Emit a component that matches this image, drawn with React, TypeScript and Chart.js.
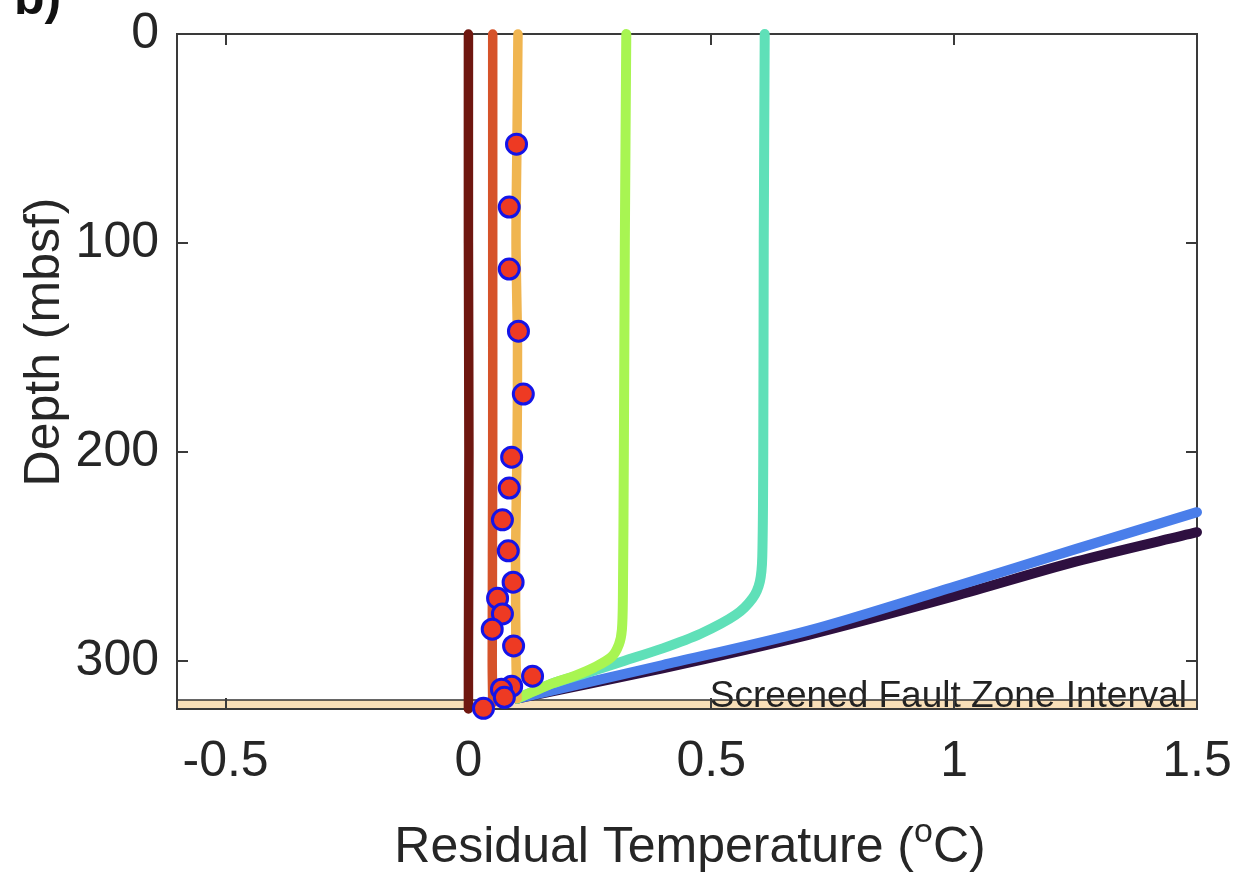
import React, { useEffect, useRef } from "react";
import { Chart, registerables } from "chart.js";

Chart.register(...registerables);

// Axis ranges and ticks
const X_MIN = -0.6;
const X_MAX = 1.5;
const DEPTH_MAX = 323;
const xTicks = [-0.5, 0, 0.5, 1, 1.5];
const xTickLabels = ["-0.5", "0", "0.5", "1", "1.5"];
const yTicks = [0, 100, 200, 300];

// Screened interval (mbsf)
const BAND_TOP = 318.7;
const BAND_BOTTOM = 323;
const BAND_LABEL = "Screened Fault Zone Interval";

// Modelled residual temperature profiles (°C) and their depths (mbsf)
const maroonT = [0.0, 0.0, 0.001, 0.0, 0.0];
const maroonZ = [0, 100, 200, 300, 323];

const redOrangeT = [0.05, 0.05, 0.05, 0.049, 0.05];
const redOrangeZ = [0, 100, 200, 300, 320];

const amberT = [0.102, 0.1, 0.098, 0.101, 0.1, 0.097, 0.098, 0.1];
const amberZ = [0, 50, 100, 150, 200, 250, 300, 318];

const greenT = [0.325, 0.322, 0.32, 0.318, 0.316, 0.31, 0.295, 0.26, 0.22, 0.17, 0.13, 0.1];
const greenZ = [0, 100, 200, 270, 285, 292, 298, 303, 307, 311, 315, 318];

const tealT = [0.61, 0.608, 0.607, 0.605, 0.6, 0.585, 0.55, 0.478, 0.4, 0.32, 0.24, 0.17, 0.1];
const tealZ = [0, 100, 200, 250, 262, 270, 278, 287, 294, 300, 306, 311, 318];

const blueT = [0.1, 0.4, 0.7, 1.0, 1.25, 1.5];
const blueZ = [318, 302, 285.5, 264.5, 246.5, 228.8];

const purpleT = [0.1, 0.4, 0.7, 1.0, 1.25, 1.5];
const purpleZ = [318, 303.5, 287.5, 269, 252.5, 238.4];

// Measured residual temperatures
const obsT = [
  0.099, 0.084, 0.084, 0.103, 0.113, 0.089, 0.084, 0.07, 0.082, 0.092,
  0.06, 0.07, 0.049, 0.093, 0.132, 0.089, 0.068, 0.074, 0.031,
];
const obsZ = [
  52.7, 82.8, 112.5, 142.2, 172.3, 202.5, 217.3, 232.5, 247.3, 262.3,
  270, 277.5, 284.8, 292.8, 307.3, 312.1, 313.5, 317.4, 322.7,
];

const FONT = '"Liberation Sans", Arial, Helvetica, sans-serif';
const TEXT_COLOR = "#262626";

const pairs = (t: number[], z: number[]) => t.map((v, i) => ({ x: v, y: z[i] }));

const profile = (t: number[], z: number[], color: string, width = 9.5) => ({
  type: "scatter" as const,
  data: pairs(t, z),
  showLine: true,
  borderColor: color,
  backgroundColor: color,
  borderWidth: width,
  borderCapStyle: "round" as const,
  borderJoinStyle: "round" as const,
  tension: 0.3,
  pointRadius: 0,
  clip: false as const,
});

const frameAndLabels = {
  id: "frameAndLabels",
  beforeDatasetsDraw(chart: any) {
    const { ctx, chartArea: a, scales } = chart;
    const x = scales.x;
    const y = scales.y;
    const yTop = y.getPixelForValue(BAND_TOP);
    const yBot = y.getPixelForValue(BAND_BOTTOM);
    ctx.save();
    // screened interval band
    ctx.fillStyle = "#f8dfb8";
    ctx.fillRect(a.left, yTop, a.right - a.left, yBot - yTop);
    ctx.font = `37px ${FONT}`;
    ctx.fillStyle = "#222";
    ctx.textAlign = "right";
    ctx.textBaseline = "alphabetic";
    ctx.fillText(BAND_LABEL, a.right - 10, yBot - 2);
    ctx.strokeStyle = "#333";
    ctx.lineWidth = 1.5;
    ctx.beginPath();
    ctx.moveTo(a.left, yTop);
    ctx.lineTo(a.right, yTop);
    ctx.stroke();

    // axes box with inward ticks
    ctx.strokeStyle = "#3a3a3a";
    ctx.lineWidth = 2;
    ctx.strokeRect(a.left, a.top, a.right - a.left, a.bottom - a.top);
    const tl = 11;
    ctx.beginPath();
    xTicks.forEach((v) => {
      const px = Math.round(x.getPixelForValue(v));
      ctx.moveTo(px, a.bottom);
      ctx.lineTo(px, a.bottom - tl);
      ctx.moveTo(px, a.top);
      ctx.lineTo(px, a.top + tl);
    });
    yTicks.forEach((v) => {
      const py = Math.round(y.getPixelForValue(v));
      ctx.moveTo(a.left, py);
      ctx.lineTo(a.left + tl, py);
      ctx.moveTo(a.right, py);
      ctx.lineTo(a.right - tl, py);
    });
    ctx.stroke();
    ctx.restore();
  },
  afterDraw(chart: any) {
    const { ctx, chartArea: a } = chart;
    ctx.save();
    ctx.fillStyle = TEXT_COLOR;
    ctx.textBaseline = "alphabetic";

    // x-axis title with superscript degree mark
    const big = `50px ${FONT}`;
    const small = `34px ${FONT}`;
    const head = "Residual Temperature (";
    const sup = "o";
    const tail = "C)";
    ctx.font = big;
    const wHead = ctx.measureText(head).width;
    const wTail = ctx.measureText(tail).width;
    ctx.font = small;
    const wSup = ctx.measureText(sup).width;
    const cx = (a.left + a.right) / 2 + 3;
    const base = 862;
    let sx = cx - (wHead + wSup + wTail) / 2;
    ctx.textAlign = "left";
    ctx.font = big;
    ctx.fillText(head, sx, base);
    sx += wHead;
    ctx.font = small;
    ctx.fillText(sup, sx, base - 20);
    sx += wSup;
    ctx.font = big;
    ctx.fillText(tail, sx, base);

    // y-axis title
    ctx.translate(59, 342);
    ctx.rotate(-Math.PI / 2);
    ctx.textAlign = "center";
    ctx.font = big;
    ctx.fillText("Depth (mbsf)", 0, 0);
    ctx.restore();

    // panel letter
    ctx.save();
    ctx.fillStyle = "#111";
    ctx.font = `bold 50px ${FONT}`;
    ctx.textAlign = "left";
    ctx.textBaseline = "alphabetic";
    ctx.fillText("b)", 14, 14);
    ctx.restore();
  },
};

export default function App() {
  const canvasRef = useRef<HTMLCanvasElement | null>(null);

  useEffect(() => {
    const canvas = canvasRef.current;
    if (!canvas) return;
    const chart = new Chart(canvas, {
      type: "scatter",
      data: {
        datasets: [
          {
            type: "scatter",
            data: pairs(obsT, obsZ),
            pointRadius: 10,
            pointBorderWidth: 3,
            pointBackgroundColor: "#ee3a23",
            pointBorderColor: "#1414e8",
            showLine: false,
            clip: false,
          },
          profile(maroonT, maroonZ, "#6f1710"),
          profile(redOrangeT, redOrangeZ, "#d6532a"),
          profile(amberT, amberZ, "#f0b550"),
          profile(greenT, greenZ, "#a8f552", 10),
          profile(tealT, tealZ, "#5fe0b8", 10),
          profile(blueT, blueZ, "#4a7eea", 10),
          profile(purpleT, purpleZ, "#2e1040", 10),
        ] as any,
      },
      options: {
        responsive: false,
        devicePixelRatio: 1,
        animation: false,
        layout: { autoPadding: false, padding: { left: 0, right: 43, top: 34, bottom: 0 } },
        plugins: {
          legend: { display: false },
          tooltip: { enabled: false },
        },
        scales: {
          x: {
            type: "linear",
            min: X_MIN,
            max: X_MAX,
            afterBuildTicks: (s: any) => {
              s.ticks = xTicks.map((v) => ({ value: v }));
            },
            afterFit: (s: any) => {
              s.height = 164;
              s.paddingLeft = 0;
              s.paddingRight = 0;
            },
            ticks: {
              autoSkip: false,
              maxRotation: 0,
              padding: 23,
              color: TEXT_COLOR,
              font: { family: FONT, size: 50 },
              callback: (v: any) => {
                const i = xTicks.indexOf(Number(v));
                return i >= 0 ? xTickLabels[i] : "";
              },
            },
            grid: { display: false, drawTicks: false },
            border: { display: false },
          },
          y: {
            type: "linear",
            reverse: true,
            min: 0,
            max: DEPTH_MAX,
            afterBuildTicks: (s: any) => {
              s.ticks = yTicks.map((v) => ({ value: v }));
            },
            afterFit: (s: any) => {
              s.width = 177;
              s.paddingTop = 0;
              s.paddingBottom = 0;
            },
            ticks: {
              autoSkip: false,
              padding: 18,
              color: TEXT_COLOR,
              font: { family: FONT, size: 50 },
              callback: (v: any) => String(v),
            },
            grid: { display: false, drawTicks: false },
            border: { display: false },
          },
        },
      },
      plugins: [frameAndLabels],
    } as any);
    return () => chart.destroy();
  }, []);

  return (
    <div style={{ position: "fixed", left: 0, top: 0, width: 1240, height: 873, background: "#fff" }}>
      <canvas ref={canvasRef} width={1240} height={873} style={{ display: "block" }} />
    </div>
  );
}
